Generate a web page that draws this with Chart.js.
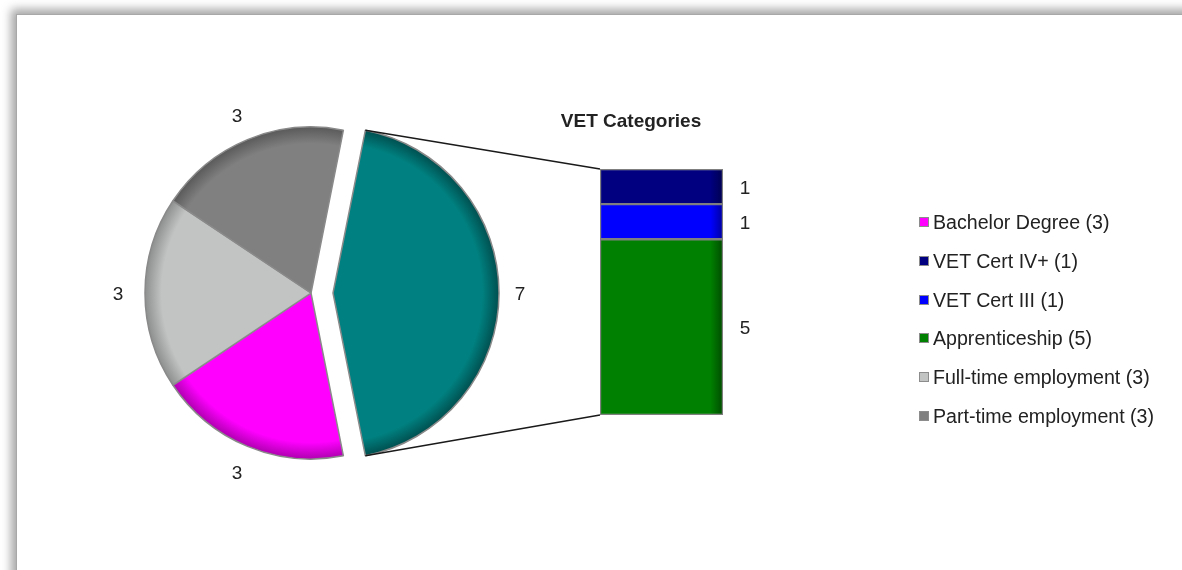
<!DOCTYPE html>
<html><head><meta charset="utf-8">
<script src="https://cdn.jsdelivr.net/npm/chart.js@4.4.1/dist/chart.umd.min.js"></script>
<style>
html,body{margin:0;padding:0;background:#fff;}
#stage{position:relative;width:1182px;height:570px;overflow:hidden;background:#fff;}
#frame{position:absolute;left:16px;top:14px;width:1300px;height:700px;background:#fff;border-left:1px solid #a8a8a8;border-top:1px solid #a8a8a8;box-shadow:-2px -2px 9px 3px rgba(0,0,0,0.35);}
#pieWrap{position:absolute;left:0;top:0;width:1182px;height:570px;}
#barWrap{position:absolute;left:482px;top:90px;width:298px;height:340px;}
#legend{position:absolute;left:0;top:0;width:0;height:0;}
.item{position:absolute;left:919px;height:22px;line-height:22px;font:19.6px 'Liberation Sans',Arial,sans-serif;color:#222;white-space:nowrap;}
.item .sw{position:absolute;left:0;top:6px;width:10px;height:10px;box-sizing:border-box;border:1px solid #8c8c8c;}
.item .tx{position:absolute;left:14px;top:0;}
</style></head>
<body><div id="stage"><div id="frame"></div>
<div id="pieWrap"><canvas id="pie"></canvas></div>
<div id="barWrap"><canvas id="bar"></canvas></div>
<div id="legend"></div></div>
<script>
// ---- data ----
const pieCategories = ['VET Categories', 'Bachelor Degree', 'Full-time employment', 'Part-time employment'];
const pieValues = [7, 3, 3, 3];
const barCategories = ['Apprenticeship', 'VET Cert III', 'VET Cert IV+'];
const barValues = [5, 1, 1];
const legendOrder = ['Bachelor Degree', 'VET Cert IV+', 'VET Cert III', 'Apprenticeship', 'Full-time employment', 'Part-time employment'];

// ---- styles ----
const pieColors = ['#008080', '#FF00FF', '#C2C4C4', '#808080'];
const pieShade = ['#004f4f', '#b000b0', '#8e9090', '#5a5a5a'];
const barColors = ['#008000', '#0000FF', '#000080'];
const barShade = ['#004c00', '#0000a0', '#000050'];
const FONT = "'Liberation Sans', Arial, sans-serif";
const TEXT = '#222';
Chart.defaults.font.family = FONT;

const R = 166;
const EXPLODE = 22;
const pieTotal = pieValues.reduce((a, b) => a + b, 0);
const barTotal = barValues.reduce((a, b) => a + b, 0);
const rotationDeg = 90 - pieValues[0] / pieTotal * 180;

function sliceAngles(i) {
  let s = (rotationDeg - 90) * Math.PI / 180;
  for (let j = 0; j < i; j++) s += pieValues[j] / pieTotal * 2 * Math.PI;
  const e = s + pieValues[i] / pieTotal * 2 * Math.PI;
  return [s, e];
}
function shiftOf(i) { return i === 0 ? EXPLODE : 0; }

function pieFill(ctx) {
  const i = ctx.dataIndex;
  const ch = ctx.chart, a = ch.chartArea;
  if (i === undefined) return pieColors[0];
  if (!a) return pieColors[i];
  const [s, e] = sliceAngles(i);
  const m = (s + e) / 2;
  const cx = (a.left + a.right) / 2 + Math.cos(m) * shiftOf(i);
  const cy = (a.top + a.bottom) / 2 + Math.sin(m) * shiftOf(i);
  const g = ch.ctx.createRadialGradient(cx, cy, 0, cx, cy, R);
  g.addColorStop(0, pieColors[i]);
  g.addColorStop(0.9, pieColors[i]);
  g.addColorStop(1, pieShade[i]);
  return g;
}

function barFill(ctx, i) {
  const ch = ctx.chart, a = ch.chartArea;
  if (!a) return barColors[i];
  const g = ch.ctx.createLinearGradient(a.left, 0, a.right, 0);
  g.addColorStop(0, barColors[i]);
  g.addColorStop(0.9, barColors[i]);
  g.addColorStop(1, barShade[i]);
  return g;
}

// ---- bar chart (VET breakdown) ----
const barLabels = {
  id: 'barLabels',
  afterDatasetsDraw(chart) {
    const c = chart.ctx;
    c.save();
    c.font = '19px ' + FONT;
    c.fillStyle = TEXT;
    c.textAlign = 'center';
    c.textBaseline = 'middle';
    chart.data.datasets.forEach((ds, i) => {
      const el = chart.getDatasetMeta(i).data[0];
      c.fillText(String(barValues[i]), el.x + el.width / 2 + 22, (el.y + el.base) / 2 + 2);
    });
    c.restore();
  }
};

const barChart = new Chart(document.getElementById('bar'), {
  type: 'bar',
  data: {
    labels: [''],
    datasets: barCategories.map((c, i) => ({
      label: c,
      data: [barValues[i]],
      backgroundColor: (ctx) => barFill(ctx, i),
      borderColor: '#7f7f7f',
      borderWidth: 1.5,
      borderSkipped: false,
      barPercentage: 1,
      categoryPercentage: 1
    }))
  },
  options: {
    responsive: true, maintainAspectRatio: false, animation: false, events: [],
    layout: { padding: { top: 0, bottom: 15, left: 0, right: 0 } },
    plugins: {
      legend: { display: false }, tooltip: { enabled: false },
      title: { display: true, text: pieCategories[0], color: TEXT,
        font: { size: 19, weight: 'bold', family: FONT }, padding: { top: 20.6, bottom: 35.6 } }
    },
    scales: {
      x: { display: false, stacked: true },
      y: { stacked: true, min: 0, max: barTotal, position: 'left',
        grid: { display: false }, border: { display: false }, ticks: { display: false },
        afterFit: (s) => { s.width = 118; } },
      y2: { position: 'right', grid: { display: false }, border: { display: false }, ticks: { display: false },
        afterFit: (s) => { s.width = 57; } }
    }
  },
  plugins: [barLabels]
});

// ---- pie chart ----
const pieExtras = {
  id: 'pieExtras',
  afterDatasetsUpdate(chart) {
    // explode the "VET Categories" slice outward along its mid angle
    chart.getDatasetMeta(0).data.forEach((el, i) => {
      const m = (el.startAngle + el.endAngle) / 2;
      el.x += Math.cos(m) * shiftOf(i);
      el.y += Math.sin(m) * shiftOf(i);
    });
  },
  afterDatasetsDraw(chart) {
    const c = chart.ctx;
    const meta = chart.getDatasetMeta(0);
    // connector lines from exploded slice to bar corners
    const pr = chart.canvas.getBoundingClientRect();
    const br = barChart.canvas.getBoundingClientRect();
    const ox = br.left - pr.left, oy = br.top - pr.top;
    const topEl = barChart.getDatasetMeta(barCategories.length - 1).data[0];
    const botEl = barChart.getDatasetMeta(0).data[0];
    const bx = ox + topEl.x - topEl.width / 2;
    const byTop = oy + topEl.y;
    const byBot = oy + botEl.base;
    const arc = meta.data[0];
    c.save();
    c.strokeStyle = '#1a1a1a';
    c.lineWidth = 1.5;
    c.beginPath();
    c.moveTo(arc.x + Math.cos(arc.startAngle) * arc.outerRadius, arc.y + Math.sin(arc.startAngle) * arc.outerRadius);
    c.lineTo(bx, byTop);
    c.moveTo(arc.x + Math.cos(arc.endAngle) * arc.outerRadius, arc.y + Math.sin(arc.endAngle) * arc.outerRadius);
    c.lineTo(bx, byBot);
    c.stroke();
    // value labels
    c.font = '19px ' + FONT;
    c.fillStyle = TEXT;
    c.textAlign = 'center';
    c.textBaseline = 'middle';
    meta.data.forEach((el, i) => {
      const mm = (el.startAngle + el.endAngle) / 2;
      const d = el.outerRadius + (i === 0 ? 21 : 27);
      c.fillText(String(pieValues[i]), el.x + Math.cos(mm) * d, el.y + Math.sin(mm) * d + 2);
    });
    c.restore();
  }
};

const pieChart = new Chart(document.getElementById('pie'), {
  type: 'pie',
  data: {
    labels: pieCategories,
    datasets: [{
      data: pieValues,
      backgroundColor: pieFill,
      borderColor: '#8a8a8a',
      borderWidth: 1.5,
      hoverOffset: 0
    }]
  },
  options: {
    responsive: true, maintainAspectRatio: false, animation: false, events: [],
    rotation: rotationDeg,
    radius: R,
    layout: { padding: { left: 0, right: 1182 - 2 * 311, top: 16, bottom: 0 } },
    plugins: { legend: { display: false }, tooltip: { enabled: false } }
  },
  plugins: [pieExtras]
});

// ---- legend ----
const colorOf = {}, valueOf = {};
pieCategories.forEach((c, i) => { colorOf[c] = pieColors[i]; valueOf[c] = pieValues[i]; });
barCategories.forEach((c, i) => { colorOf[c] = barColors[i]; valueOf[c] = barValues[i]; });
const lg = document.getElementById('legend');
legendOrder.forEach((name, i) => {
  const d = document.createElement('div');
  d.className = 'item';
  d.style.top = (222 + i * 38.8 - 11) + 'px';
  const sw = document.createElement('span');
  sw.className = 'sw';
  sw.style.background = colorOf[name];
  const tx = document.createElement('span');
  tx.className = 'tx';
  tx.textContent = name + ' (' + valueOf[name] + ')';
  d.appendChild(sw); d.appendChild(tx);
  lg.appendChild(d);
});
</script>
</body></html>
